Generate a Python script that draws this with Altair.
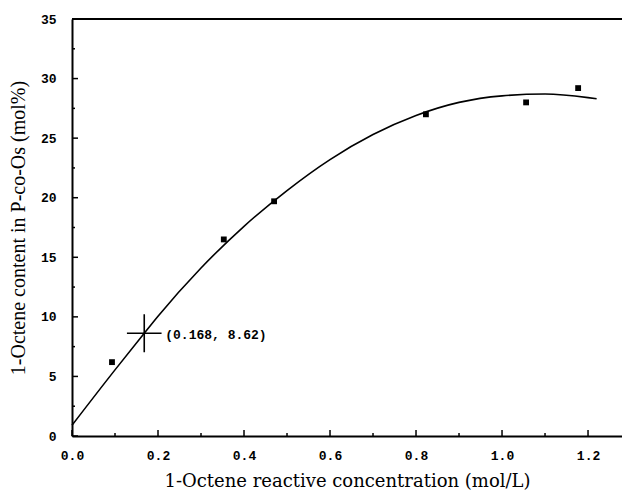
import altair as alt
import pandas as pd

# Fitted curve
curve_x = [0.0, 0.1, 0.168, 0.2, 0.3, 0.4, 0.5, 0.6, 0.7, 0.8, 0.9, 1.0, 1.1, 1.2, 1.22]
curve_y = [0.9, 5.55, 8.62, 10.05, 14.1, 17.6, 20.6, 23.2, 25.3, 26.9, 28.0, 28.55, 28.7, 28.4, 28.3]

# Measured points
pts_x = [0.093, 0.353, 0.47, 0.823, 1.056, 1.177]
pts_y = [6.2, 16.5, 19.7, 27.0, 28.0, 29.2]

# Marked point
mark_x = [0.168]
mark_y = [8.62]
mark_label = ["(0.168, 8.62)"]

# Axis ticks
x_major = [0.0, 0.2, 0.4, 0.6, 0.8, 1.0, 1.2]
x_minor = [0.1, 0.3, 0.5, 0.7, 0.9, 1.1]
y_major = [0, 5, 10, 15, 20, 25, 30, 35]
y_minor = [2.5, 7.5, 12.5, 17.5, 22.5, 27.5, 32.5]

X_TITLE = "1-Octene reactive concentration (mol/L)"
Y_TITLE = "1-Octene content in P-co-Os (mol%)"

W, H = 550, 417
xs = alt.Scale(domain=[0, 1.279], nice=False, zero=False)
ys = alt.Scale(domain=[0, 35], nice=False, zero=False)

curve_df = pd.DataFrame({"x": curve_x, "y": curve_y})
pts_df = pd.DataFrame({"x": pts_x, "y": pts_y})
mark_df = pd.DataFrame({"x": mark_x, "y": mark_y, "label": mark_label})
xmaj_df = pd.DataFrame({"x": x_major})
xmin_df = pd.DataFrame({"x": x_minor})
ymaj_df = pd.DataFrame({"y": y_major})
ymin_df = pd.DataFrame({"y": y_minor})

lab_font = "Liberation Mono"

def x_axis():
    return alt.Axis(
        values=x_major, format=".1f", ticks=False, grid=False,
        domain=True, domainColor="black", domainWidth=2,
        labelFont=lab_font, labelFontWeight="bold", labelFontSize=13, labelColor="black",
        labelPadding=13, labelFlush=False,
        title=X_TITLE, titleFont="DejaVu Serif", titleFontSize=18, titleFontWeight="normal",
        titleColor="black", titlePadding=10,
    )

def y_axis():
    return alt.Axis(
        values=y_major, format="d", ticks=False, grid=False,
        domain=True, domainColor="black", domainWidth=2,
        labelFont=lab_font, labelFontWeight="bold", labelFontSize=13, labelColor="black",
        labelPadding=16, labelFlush=False,
        title=Y_TITLE, titleFont="Liberation Serif", titleFontSize=20, titleFontWeight="normal",
        titleColor="black", titlePadding=12,
    )

def X():
    return alt.X("x:Q", scale=xs, axis=x_axis(), title=X_TITLE)

def Y():
    return alt.Y("y:Q", scale=ys, axis=y_axis(), title=Y_TITLE)

curve = alt.Chart(curve_df).mark_line(color="black", strokeWidth=1.6, interpolate="monotone").encode(
    x=X(), y=Y(),
)

points = alt.Chart(pts_df).mark_square(color="black", size=34, opacity=1).encode(
    x=X(), y=Y(),
)

cross = alt.Chart(mark_df).mark_point(
    shape="M-1,0H1M0,-1.1V1.1", size=1200, filled=False, stroke="black", strokeWidth=1.6, opacity=1
).encode(
    x=X(), y=Y(),
)

label = alt.Chart(mark_df).mark_text(
    align="left", baseline="middle", dx=21, dy=2, font=lab_font, fontWeight="bold", fontSize=13, color="black"
).encode(
    x=X(), y=Y(),
    text="label:N",
)

xmaj = alt.Chart(xmaj_df).mark_rule(color="black", strokeWidth=1.5).encode(
    x=X(), y=alt.value(H), y2=alt.value(H - 6),
)
xmin = alt.Chart(xmin_df).mark_rule(color="black", strokeWidth=1.5).encode(
    x=X(), y=alt.value(H), y2=alt.value(H - 3),
)
ymaj = alt.Chart(ymaj_df).mark_rule(color="black", strokeWidth=1.5).encode(
    y=Y(), x=alt.value(0), x2=alt.value(6),
)
ymin = alt.Chart(ymin_df).mark_rule(color="black", strokeWidth=1.5).encode(
    y=Y(), x=alt.value(0), x2=alt.value(3),
)

top = alt.Chart(pd.DataFrame({"k": [0]})).mark_rule(color="black", strokeWidth=2).encode(
    x=alt.value(0), x2=alt.value(W), y=alt.value(0)
)

chart = alt.layer(curve, points, cross, label, xmaj, xmin, ymaj, ymin, top).properties(
    width=W, height=H,
    autosize=alt.AutoSizeParams(type="none"),
    padding={"left": 72, "top": 19, "right": 0, "bottom": 57},
    background="white",
).configure_view(stroke="transparent")

chart.save("out.html", embed_options={"renderer": "svg", "actions": False})
